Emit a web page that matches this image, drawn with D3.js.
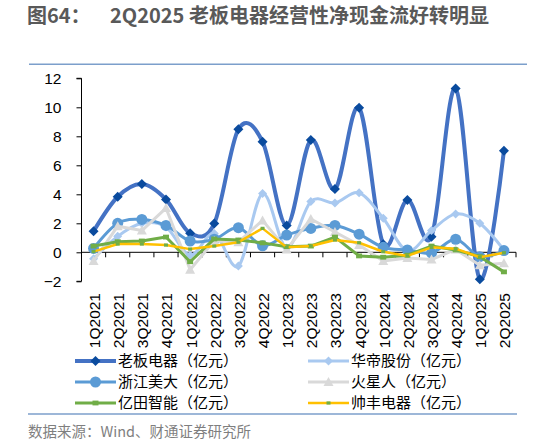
<!DOCTYPE html>
<html><head><meta charset="utf-8">
<script src="https://cdn.jsdelivr.net/npm/d3@7"></script>
<style>
body{margin:0;background:#fff;}
svg{display:block;font-family:"Liberation Sans",Arial,sans-serif;}
</style></head>
<body><svg id="c" width="533" height="445"></svg>
<script>
const quarters = ["1Q2021","2Q2021","3Q2021","4Q2021","1Q2022","2Q2022","3Q2022","4Q2022","1Q2023","2Q2023","3Q2023","4Q2023","1Q2024","2Q2024","3Q2024","4Q2024","1Q2025","2Q2025"];
const laoban   = [1.45,3.83,4.71,3.65,1.31,1.98,8.48,7.63,1.84,7.74,4.36,9.97,0.55,3.6,1.08,11.3,-1.86,7.0];
const huadi    = [-0.45,1.1,2.0,1.75,-0.2,1.3,-0.95,4.05,0.3,3.5,3.4,4.1,2.35,0.1,1.5,2.65,2.0,0.15];
const meida    = [0.27,2.0,2.27,1.85,0.78,0.9,1.7,0.45,1.19,1.65,1.85,1.25,0.34,0.16,-0.05,0.9,-0.3,0.12];
const huoxing  = [-0.6,1.8,1.5,3.05,-1.2,0.8,0.7,2.2,0.2,2.3,1.4,0.5,-0.6,-0.4,-0.5,0.2,-0.9,-0.75];
const yitian   = [0.43,0.73,0.78,1.05,-0.65,0.92,0.85,0.65,0.39,0.43,1.05,-0.25,-0.34,-0.2,0.43,0.16,-0.3,-1.35];
const shuaifeng= [0.05,0.57,0.57,0.5,0.22,0.43,0.7,1.65,0.34,0.43,0.85,0.66,0.04,-0.25,0.34,0.25,-0.34,-0.03];
const seriesNames = ["老板电器（亿元）","华帝股份（亿元）","浙江美大（亿元）","火星人（亿元）","亿田智能（亿元）","帅丰电器（亿元）"];
const yTicks = [-2,0,2,4,6,8,10,12];

const series = [
  {name:seriesNames[0], data:laoban, color:"#4472C4", mcolor:"#0A4B9E", w:4, marker:"diamond", ms:10, curve:true},
  {name:seriesNames[1], data:huadi, color:"#A9C9F0", mcolor:"#A9C9F0", w:3, marker:"diamond", ms:9, curve:true},
  {name:seriesNames[2], data:meida, color:"#5B9BD5", mcolor:"#5B9BD5", w:3, marker:"circle", ms:11, curve:true},
  {name:seriesNames[3], data:huoxing, color:"#D9D9D9", mcolor:"#D9D9D9", w:3, marker:"triangle", ms:10, curve:false},
  {name:seriesNames[4], data:yitian, color:"#70AD47", mcolor:"#70AD47", w:3, marker:"square", ms:6, curve:false},
  {name:seriesNames[5], data:shuaifeng, color:"#FFC000", mcolor:"#70AD47", w:2.5, marker:"square", ms:4, curve:false}
];

const svg = d3.select("#c");
const x = d3.scalePoint().domain(quarters).range([81.5,516]).padding(0.5);
const y = d3.scaleLinear().domain([-2,12]).range([281.3,78.3]);

// title
svg.append("text").attr("x",27).attr("y",23).attr("fill","#595959")
  .attr("font-family","'Noto Sans CJK SC',sans-serif").attr("font-weight","bold").attr("font-size",20)
  .text("图64：");
svg.append("text").attr("x",110).attr("y",23).attr("fill","#595959")
  .attr("font-family","'Noto Sans CJK SC',sans-serif").attr("font-weight","bold").attr("font-size",20)
  .text("2Q2025 老板电器经营性净现金流好转明显");
// separators
svg.append("line").attr("x1",29).attr("x2",527).attr("y1",64.3).attr("y2",64.3).attr("stroke","#7C9FCB").attr("stroke-width",1.5);
svg.append("line").attr("x1",28).attr("x2",517).attr("y1",414).attr("y2",414).attr("stroke","#7C9FCB").attr("stroke-width",1.5);
svg.append("text").attr("x",28).attr("y",437).attr("fill","#7F7F7F")
  .attr("font-family","'Noto Sans CJK SC',sans-serif").attr("font-size",14.5)
  .text("数据来源：Wind、财通证券研究所");

// y axis
const yAxis = d3.axisLeft(y).tickValues(yTicks).tickSize(5).tickPadding(15).tickFormat(d3.format("d"));
const gy = svg.append("g").attr("transform","translate(81.5,0)").call(yAxis);
gy.select(".domain").attr("stroke","#000").attr("d",`M-5,${y(12)}H0V${y(-2)}H-5`);
gy.selectAll(".tick line").attr("stroke","#000");
gy.selectAll(".tick text").attr("font-size",15.5).attr("fill","#000").attr("font-family","'Liberation Sans',Arial,sans-serif");

// x axis line at zero
const step = x.step();
svg.append("line").attr("x1",81.5).attr("x2",516).attr("y1",y(0)).attr("y2",y(0)).attr("stroke","#000");
svg.append("g").selectAll("line").data(quarters.map((q,i)=>i).concat([quarters.length]))
  .join("line")
  .attr("x1",i=> i<quarters.length ? x(quarters[i])-step/2 : x(quarters[quarters.length-1])+step/2)
  .attr("x2",i=> i<quarters.length ? x(quarters[i])-step/2 : x(quarters[quarters.length-1])+step/2)
  .attr("y1",y(0)).attr("y2",y(0)+5).attr("stroke","#000");
svg.append("g").selectAll("text").data(quarters).join("text")
  .attr("transform",d=>`translate(${x(d)+1},293) rotate(-90)`)
  .attr("text-anchor","end").attr("dy","0.35em")
  .attr("font-size",15.5).attr("fill","#000").text(d=>d);

// series
function markerPath(type,s){
  if(type==="diamond") return d3.symbol(d3.symbolDiamond2? d3.symbolSquare2 : d3.symbolSquare, s*s)();
  return null;
}
function drawMarker(g,type,cx,cy,s,color){
  if(type==="diamond"){
    const h=s/2;
    g.append("path").attr("d",`M${cx},${cy-h}L${cx+h},${cy}L${cx},${cy+h}L${cx-h},${cy}Z`).attr("fill",color);
  } else if(type==="circle"){
    g.append("circle").attr("cx",cx).attr("cy",cy).attr("r",s/2).attr("fill",color);
  } else if(type==="triangle"){
    const h=s/2;
    g.append("path").attr("d",`M${cx},${cy-h}L${cx+h},${cy+h*0.8}L${cx-h},${cy+h*0.8}Z`).attr("fill",color);
  } else if(type==="square"){
    g.append("rect").attr("x",cx-s/2).attr("y",cy-s/2*0.8).attr("width",s).attr("height",s*0.8).attr("fill",color);
  }
}
const plot = svg.append("g");
series.forEach(s=>{
  const line = d3.line().x((d,i)=>x(quarters[i])).y(d=>y(d))
    .curve(s.curve ? d3.curveCardinal.tension(0) : d3.curveLinear);
  plot.append("path").attr("d",line(s.data)).attr("fill","none")
    .attr("stroke",s.color).attr("stroke-width",s.w).attr("stroke-linejoin","round");
  const g = plot.append("g");
  s.data.forEach((v,i)=>drawMarker(g,s.marker,x(quarters[i]),y(v),s.ms,s.mcolor));
});

// legend
const leg = svg.append("g");
const legPos = [[75,361],[308,361],[75,382],[308,382],[75,403],[308,403]];
series.forEach((s,i)=>{
  const [lx,ly]=legPos[i];
  const g = leg.append("g");
  g.append("line").attr("x1",lx).attr("x2",lx+41).attr("y1",ly).attr("y2",ly)
    .attr("stroke",s.color).attr("stroke-width",s.w);
  drawMarker(g,s.marker,lx+20.5,ly,s.ms,s.mcolor);
  g.append("text").attr("x",lx+43).attr("y",ly).attr("dy","0.36em")
    .attr("font-family","'Noto Sans CJK SC',sans-serif").attr("font-size",15).attr("fill","#000")
    .text(s.name);
});
</script></body></html>
